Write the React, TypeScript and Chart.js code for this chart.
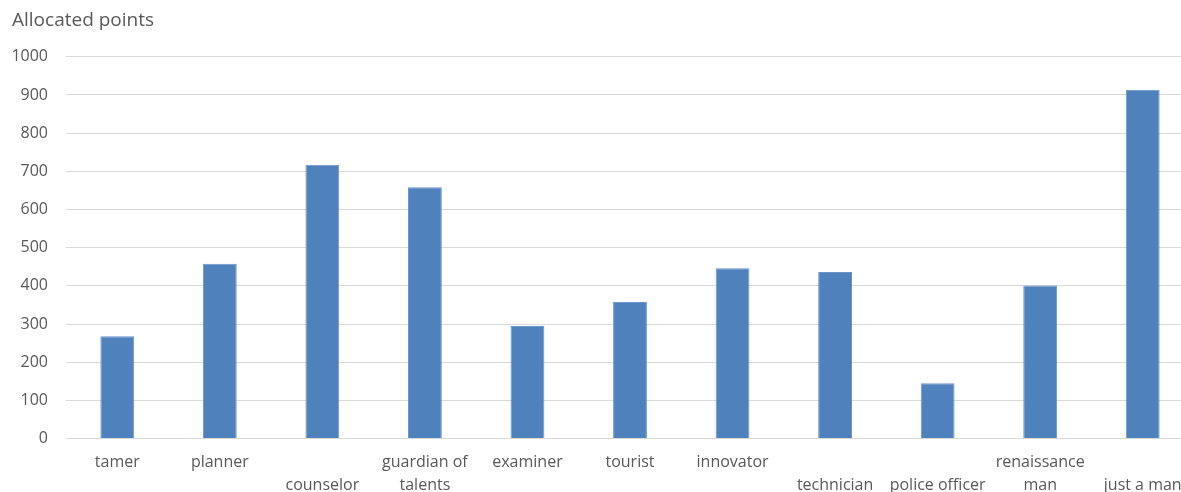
import React, { useEffect, useRef } from "react";
import { Chart, registerables } from "chart.js";

Chart.register(...registerables);

const categories: (string | string[])[] = [
  "tamer",
  "planner",
  ["", "counselor"],
  ["guardian of", "talents"],
  "examiner",
  "tourist",
  "innovator",
  ["", "technician"],
  ["", "police officer"],
  ["renaissance", "man"],
  ["", "just a man"],
];

const allocatedPoints = [268, 458, 717, 658, 295, 358, 446, 436, 145, 401, 914];

const yTicks = { min: 0, max: 1000, step: 100 };

const titleText = "Allocated points";

export default function App() {
  const ref = useRef<HTMLCanvasElement | null>(null);

  useEffect(() => {
    if (!ref.current) return;
    const textColor = "#595959";
    const family = "'Open Sans', 'Liberation Sans', sans-serif";
    const chart = new Chart(ref.current, {
      type: "bar",
      data: {
        labels: categories,
        datasets: [
          {
            label: titleText,
            data: allocatedPoints,
            backgroundColor: "#4F81BD",
            borderColor: "#6A95CB",
            borderWidth: 1,
            barPercentage: 0.33,
            categoryPercentage: 1,
          },
        ],
      },
      options: {
        responsive: false,
        animation: false,
        layout: { padding: { left: 12, right: 21, top: 4, bottom: 0 } },
        plugins: {
          legend: { display: false },
          tooltip: { enabled: false },
          title: {
            display: true,
            text: titleText,
            align: "start",
            color: textColor,
            font: { family, size: 19, weight: "normal", lineHeight: 1.2 },
            padding: { top: 5, bottom: 25 },
          },
        },
        scales: {
          x: {
            grid: { display: false, drawTicks: false },
            border: { display: false },
            ticks: {
              color: textColor,
              font: { family, size: 16, lineHeight: 1.42 },
              autoSkip: false,
              maxRotation: 0,
              minRotation: 0,
              padding: 13,
            },
          },
          y: {
            min: yTicks.min,
            max: yTicks.max,
            grid: { color: "#D9D9D9", lineWidth: 1, drawTicks: false },
            border: { display: false },
            afterFit: (scale: any) => {
              scale.width = 54;
            },
            ticks: {
              stepSize: yTicks.step,
              color: textColor,
              font: { family, size: 16 },
              padding: 18,
              callback: (v: any) => String(v),
            },
          },
        },
      },
    });
    return () => chart.destroy();
  }, []);

  return (
    <div
      style={{
        position: "fixed",
        left: 0,
        top: 0,
        width: 1181,
        height: 492,
        overflow: "hidden",
        background: "#fff",
      }}
    >
      <canvas ref={ref} width={1215} height={510} style={{ display: "block" }} />
    </div>
  );
}
